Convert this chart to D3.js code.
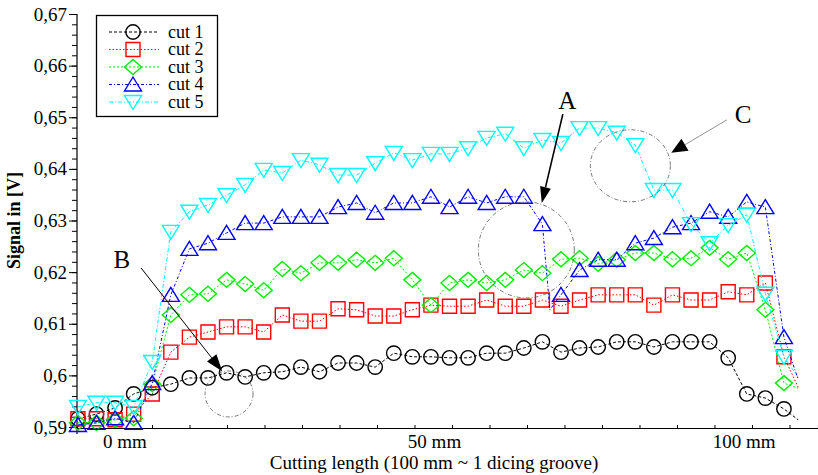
<!DOCTYPE html>
<html>
<head>
<meta charset="utf-8">
<script src="https://cdn.jsdelivr.net/npm/d3@7"></script>
<style>
  body { margin: 0; background: #fff; }
  svg text { font-family: "Liberation Serif", "Times New Roman", serif; }
</style>
</head>
<body>
<svg id="chart" width="818" height="475"></svg>
<script>
// sample positions along the groove (mm), one marker every 3 mm
const positionsMm = [-7.5, -4.5, -1.5, 1.5, 4.5, 7.5, 10.5, 13.5, 16.5, 19.5, 22.5, 25.5, 28.5,
  31.5, 34.5, 37.5, 40.5, 43.5, 46.5, 49.5, 52.5, 55.5, 58.5, 61.5, 64.5, 67.5, 70.5, 73.5,
  76.5, 79.5, 82.5, 85.5, 88.5, 91.5, 94.5, 97.5, 100.5, 103.5, 106.5];

const cut1 = [0.5916, 0.5925, 0.5937, 0.5964, 0.5976, 0.5983, 0.5995, 0.5995, 0.6005, 0.5997,
  0.6005, 0.6007, 0.6016, 0.6007, 0.6024, 0.6024, 0.6016, 0.6043, 0.6036, 0.6036, 0.6034,
  0.6034, 0.6043, 0.6043, 0.6053, 0.6065, 0.6045, 0.6053, 0.6055, 0.6065, 0.6065, 0.6055,
  0.6065, 0.6065, 0.6065, 0.6034, 0.5964, 0.5956, 0.5935];
const cut2 = [0.5916, 0.5916, 0.5914, 0.5925, 0.5964, 0.6045, 0.6074, 0.6084, 0.6094, 0.6094,
  0.6084, 0.6117, 0.6105, 0.6105, 0.6129, 0.6127, 0.6115, 0.6115, 0.6127, 0.6136, 0.6134,
  0.6134, 0.6146, 0.6134, 0.6134, 0.6146, 0.6134, 0.6146, 0.6156, 0.6156, 0.6156, 0.6136,
  0.6156, 0.6146, 0.6146, 0.6162, 0.6156, 0.6179, 0.6036];
const cut3 = [0.5908, 0.5908, 0.5914, 0.5917, 0.5983, 0.6117, 0.6156, 0.6158, 0.6185, 0.6177,
  0.6165, 0.6206, 0.6198, 0.6218, 0.6218, 0.6224, 0.6218, 0.6227, 0.6185, 0.6136, 0.6179,
  0.6185, 0.6179, 0.6185, 0.6204, 0.6198, 0.6225, 0.6227, 0.6216, 0.6224, 0.6237, 0.6237,
  0.6225, 0.6227, 0.6247, 0.6225, 0.6237, 0.6127, 0.5985];
const cut4 = [0.5904, 0.5908, 0.5917, 0.5908, 0.5985, 0.6156, 0.6245, 0.6256, 0.6276, 0.6295,
  0.6295, 0.6307, 0.6307, 0.6307, 0.6326, 0.6334, 0.6315, 0.6334, 0.6334, 0.6346, 0.6326,
  0.6346, 0.6334, 0.6346, 0.6346, 0.6293, 0.6156, 0.6204, 0.6224, 0.6224, 0.6256, 0.6266,
  0.6287, 0.6295, 0.6317, 0.6307, 0.6336, 0.6326, 0.6074];
const cut5 = [0.5939, 0.5947, 0.5947, 0.5939, 0.6026, 0.6278, 0.6317, 0.6330, 0.6349, 0.6369,
  0.6398, 0.6392, 0.6417, 0.6408, 0.6388, 0.6388, 0.6411, 0.6431, 0.6417, 0.6429, 0.6429,
  0.6440, 0.6460, 0.6468, 0.6440, 0.6456, 0.6450, 0.6479, 0.6479, 0.6470, 0.6446, 0.6359,
  0.6359, 0.6293, 0.6256, 0.6291, 0.6311, 0.6158, 0.6036];

// line-only points (no marker): end of the trace and the dip of cut 4 (A)
const tailMm = 108.8;
const tailValues = [0.5914, 0.5977, 0.5975, 0.5992, 0.5996];
const cut4Dip = [[68.7, 0.6127]];

const seriesNames = ['cut 1', 'cut 2', 'cut 3', 'cut 4', 'cut 5'];
const yTicks = [0.59, 0.6, 0.61, 0.62, 0.63, 0.64, 0.65, 0.66, 0.67];
const xTickLabels = ['0 mm', '50 mm', '100 mm'];
const xTickMm = [0, 50, 100];

const SERIF = '"Liberation Serif", "Times New Roman", serif';

const styles = [
  { color: '#000000', dash: '3,2', shape: 'circle' },
  { color: '#ff0000', dash: '1.5,2', shape: 'square' },
  { color: '#00ee00', dash: '2,2', shape: 'diamond' },
  { color: '#0000ff', dash: '3,2,1,2', shape: 'up' },
  { color: '#00ffff', dash: '4,2,1,2', shape: 'down' }
];

const svg = d3.select('#chart');
const x = d3.scaleLinear().domain([-7.65, 112]).range([77, 818]);
const y = d3.scaleLinear().domain([0.59, 0.67]).range([427, 14]);

function shapePath(s) {
  switch (s) {
    case 'circle': return 'M-7.2,0a7.2,7.2 0 1,0 14.4,0a7.2,7.2 0 1,0 -14.4,0';
    case 'square': return 'M-7,-7h14v14h-14z';
    case 'diamond': return 'M0,-7.5L8.5,0L0,7.5L-8.5,0z';
    case 'up': return 'M0,-7.5L8.5,6.5H-8.5z';
    case 'down': return 'M0,7.5L8.5,-6.5H-8.5z';
  }
}

const fmt = (v) => String(+v.toFixed(2)).replace('.', ',');

// y axis
const yMinor = d3.range(0.59, 0.6701, 0.002);
svg.append('g')
  .attr('transform', 'translate(77,0)')
  .call(d3.axisLeft(y).tickValues(yMinor).tickSize(5).tickFormat(''))
  .call((g) => g.select('.domain').remove());
const yAxis = svg.append('g')
  .attr('transform', 'translate(77,0)')
  .call(d3.axisLeft(y).tickValues(yTicks).tickSize(8).tickFormat(fmt));
yAxis.select('.domain').remove();
yAxis.selectAll('text')
  .attr('x', -10)
  .style('font-family', SERIF)
  .style('font-size', '19px')
  .attr('fill', '#000');
svg.append('line')
  .attr('x1', 77).attr('x2', 77).attr('y1', 14).attr('y2', 434)
  .attr('stroke', '#000').attr('stroke-width', 1.2);

svg.append('text')
  .attr('transform', `translate(20,${y(0.63)}) rotate(-90)`)
  .attr('text-anchor', 'middle')
  .style('font-family', SERIF)
  .style('font-size', '18px')
  .style('font-weight', 'bold')
  .text('Signal in [V]');

// x axis: small inward ticks, labels placed separately
const xMinor = d3.range(-7.65, 112, 6.055);
const xAxis = svg.append('g')
  .attr('transform', 'translate(0,428)')
  .call(d3.axisBottom(x).tickValues(xMinor).tickSize(-3).tickFormat(''));
xAxis.select('.domain').attr('stroke-width', 1.2);
const xLab = svg.append('g')
  .attr('transform', 'translate(0,428)')
  .call(d3.axisBottom(x).tickValues(xTickMm).tickSize(0).tickFormat((d, i) => xTickLabels[i]));
xLab.select('.domain').remove();
xLab.selectAll('text')
  .attr('y', 7)
  .style('font-family', SERIF)
  .style('font-size', '19px')
  .attr('fill', '#000');

svg.append('text')
  .attr('x', x(50)).attr('y', 469)
  .attr('text-anchor', 'middle')
  .style('font-family', SERIF)
  .style('font-size', '19px')
  .text('Cutting length (100 mm ~ 1 dicing groove)');

// series
const allSeries = [cut1, cut2, cut3, cut4, cut5];
const line = d3.line().x((d) => x(d[0])).y((d) => y(d[1]));

allSeries.forEach((vals, i) => {
  const st = styles[i];
  let pts = vals.map((v, k) => [positionsMm[k], v]);
  if (i === 3) pts = pts.concat(cut4Dip);
  pts.push([tailMm, tailValues[i]]);
  pts.sort((a, b) => a[0] - b[0]);

  const g = svg.append('g').attr('class', 'series');
  g.append('path')
    .attr('d', line(pts))
    .attr('fill', 'none')
    .attr('stroke', st.color)
    .attr('stroke-width', 1)
    .attr('stroke-dasharray', st.dash);

  g.selectAll('path.mk')
    .data(vals)
    .enter()
    .append('path')
    .attr('class', 'mk')
    .attr('transform', (d, k) => `translate(${x(positionsMm[k])},${y(d)})`)
    .attr('d', shapePath(st.shape))
    .attr('fill', 'none')
    .attr('stroke', st.color)
    .attr('stroke-width', 1.4);
});

// legend
const lg = svg.append('g');
lg.append('rect')
  .attr('x', 96.5).attr('y', 15.5).attr('width', 121).attr('height', 101)
  .attr('fill', '#fff').attr('stroke', '#000').attr('stroke-width', 1.3);
seriesNames.forEach((name, i) => {
  const st = styles[i];
  const ry = 32 + i * 17.5;
  lg.append('line')
    .attr('x1', 109).attr('x2', 159).attr('y1', ry).attr('y2', ry)
    .attr('stroke', st.color).attr('stroke-width', 1)
    .attr('stroke-dasharray', st.dash);
  lg.append('path')
    .attr('transform', `translate(133,${ry})`)
    .attr('d', shapePath(st.shape))
    .attr('fill', 'none').attr('stroke', st.color).attr('stroke-width', 1.4);
  lg.append('text')
    .attr('x', 168).attr('y', ry).attr('dy', '0.33em')
    .style('font-family', SERIF)
    .style('font-size', '18px')
    .text(name);
});

// annotations (data coordinates)
const notes = [
  { label: 'A', tx: 71.5, ty: 0.6533, from: [70.8, 0.6506], to: [67.4, 0.6334], w: 1.6, color: '#000', head: [16, 11],
    ring: [64.9, 0.6243, 48, 48] },
  { label: 'B', tx: -0.4, ty: 0.6225, from: [2.7, 0.6208], to: [15.8, 0.6008], w: 1, color: '#000', head: [17, 12],
    ring: [16.9, 0.5964, 24, 23] },
  { label: 'C', tx: 99.9, ty: 0.6506, from: [97.3, 0.6495], to: [88.3, 0.6431], w: 0.8, color: '#777', head: [16, 14],
    ring: [81.7, 0.6406, 40, 36] }
];
const ag = svg.append('g');
notes.forEach((n) => {
  ag.append('ellipse')
    .attr('cx', x(n.ring[0])).attr('cy', y(n.ring[1]))
    .attr('rx', n.ring[2]).attr('ry', n.ring[3])
    .attr('fill', 'none').attr('stroke', '#555').attr('stroke-width', 0.8)
    .attr('stroke-dasharray', '4,2,1,2');
  const x1 = x(n.from[0]), y1 = y(n.from[1]), x2 = x(n.to[0]), y2 = y(n.to[1]);
  const len = Math.hypot(x2 - x1, y2 - y1);
  const ux = (x2 - x1) / len, uy = (y2 - y1) / len;
  const bx = x2 - ux * n.head[0], by = y2 - uy * n.head[0];
  ag.append('line')
    .attr('x1', x1).attr('y1', y1).attr('x2', bx).attr('y2', by)
    .attr('stroke', n.color).attr('stroke-width', n.w);
  const hw = n.head[1] / 2;
  ag.append('path')
    .attr('d', `M${x2},${y2}L${bx - uy * hw},${by + ux * hw}L${bx + uy * hw},${by - ux * hw}Z`)
    .attr('fill', '#000');
  ag.append('text')
    .attr('x', x(n.tx)).attr('y', y(n.ty)).attr('dy', '0.35em')
    .attr('text-anchor', 'middle')
    .style('font-family', SERIF)
    .style('font-size', '25px')
    .text(n.label);
});
</script>
</body>
</html>
